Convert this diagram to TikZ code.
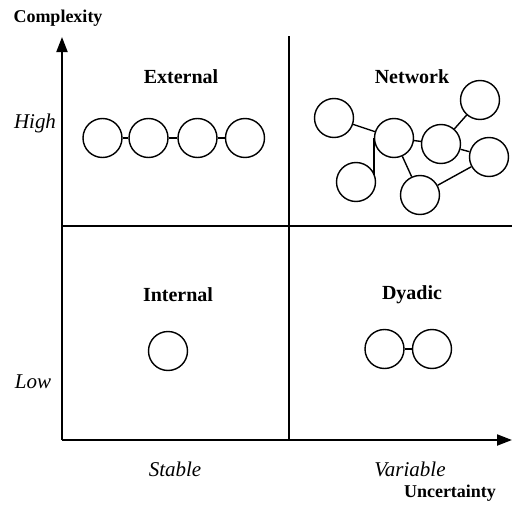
\documentclass[tikz,border=0pt]{standalone}
\usepackage{fontspec}
\setmainfont{Liberation Serif}
\usetikzlibrary{arrows.meta}
\begin{document}
\begin{tikzpicture}[x=1pt,y=-1pt,
  ent/.style={circle,draw,line width=1.4pt,minimum size=39pt,inner sep=0pt},
  link/.style={line width=1.4pt},
  axis/.style={line width=2pt,-{Triangle[length=15pt,width=11pt]}},
  divider/.style={line width=1.4pt},
  quad/.style={font=\fontsize{20}{22}\selectfont\bfseries},
  axtitle/.style={font=\fontsize{18}{20}\selectfont\bfseries},
  level/.style={font=\fontsize{21}{23}\selectfont\itshape}]
\useasboundingbox (0,0) rectangle (512,506);
% axes
\coordinate (O) at (62,440);
\coordinate (Ytop) at (62,37);
\coordinate (Xend) at (512,440);
\coordinate (Vtop) at (289,36);
\coordinate (Vbot) at (289,440);
\coordinate (Hl) at (62,226);
\coordinate (Hr) at (512,226);
\draw[divider] (Vtop) -- (Vbot);
\draw[divider] (Hl) -- (Hr);
\draw[axis] (O) -- (Ytop);
\draw[axis] (O) -- (Xend);
% labels
\node[axtitle] (cx) at (58,18) {Complexity};
\node[axtitle] (un) at (450,493) {Uncertainty};
\node[level] (hi) at (35,123) {High};
\node[level] (lo) at (33,382) {Low};
\node[level] (st) at (175,469) {Stable};
\node[level] (va) at (410,469) {Variable};
\node[quad] (qe) at (181,77) {External};
\node[quad] (qn) at (412,77) {Network};
\node[quad] (qi) at (178,295) {Internal};
\node[quad] (qd) at (412,295) {Dyadic};
% external chain
\node[ent] (e1) at (102.5,138) {};
\node[ent] (e2) at (148.5,138) {};
\node[ent] (e3) at (197.5,138) {};
\node[ent] (e4) at (245,138) {};
\draw[link] (e1) -- (e2);
\draw[link] (e2) -- (e3);
\draw[link] (e3) -- (e4);
% network
\node[ent] (nA) at (334,118) {};
\node[ent] (nB) at (394,138) {};
\node[ent] (nC) at (441,144) {};
\node[ent] (nD) at (480,100) {};
\node[ent] (nE) at (489,157) {};
\node[ent] (nF) at (356,182) {};
\node[ent] (nG) at (420,195) {};
\draw[link] (nA) -- (nB);
\draw[link] (nB) -- (nC);
\draw[link] (nC) -- (nD);
\draw[link] (nC) -- (nE);
\draw[link] (nB) -- (nG);
\draw[link] (nG) -- (nE);
\draw[link] (nB.west) -- (nB.west |- nF.20);
% internal
\node[ent] (i1) at (168,351) {};
% dyadic
\node[ent] (d1) at (384.5,349) {};
\node[ent] (d2) at (432,349) {};
\draw[link] (d1) -- (d2);
\end{tikzpicture}
\end{document}
